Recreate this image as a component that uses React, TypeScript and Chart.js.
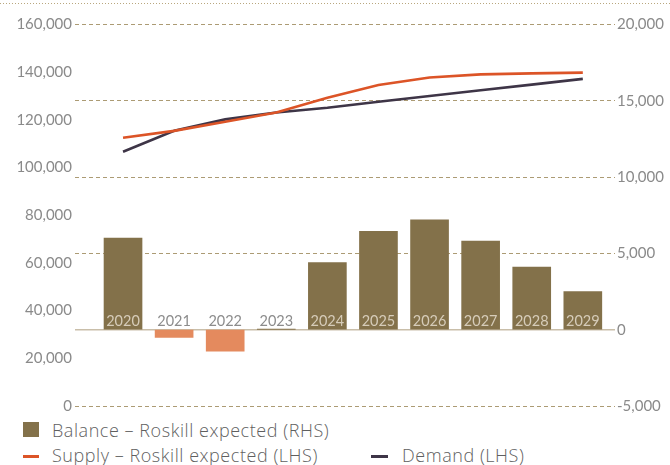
import React, { useEffect, useRef } from 'react';
import { Chart, registerables } from 'chart.js';

Chart.register(...registerables);

// ---- data ----
const years = ['2020', '2021', '2022', '2023', '2024', '2025', '2026', '2027', '2028', '2029'];
const balance = [6000, -500, -1400, 20, 4400, 6450, 7200, 5800, 4100, 2500];
const supply = [112500, 115400, 119200, 123100, 129300, 134600, 137800, 139100, 139500, 139800];
const demand = [106600, 115400, 120200, 123100, 125100, 127600, 130000, 132400, 134800, 137200];
const leftAxis = { min: 0, max: 160000, step: 20000 };
const rightAxis = { min: -5000, max: 20000, step: 5000 };
const labelBalance = 'Balance – Roskill expected (RHS)';
const labelSupply = 'Supply – Roskill expected (LHS)';
const labelDemand = 'Demand (LHS)';

const BROWN = '#83714a';
const ORANGE_BAR = '#e48a5e';
const SUPPLY_C = '#dc5427';
const DEMAND_C = '#3e3547';
const GRID_C = '#ac9b74';
const TICK_C = '#8a8a8a';
const FONT = 'Lato, "Open Sans", sans-serif';
const LEGEND_FONT = '"Open Sans", Lato, sans-serif';

const overlay = {
  id: 'overlay',
  beforeDatasetsDraw(chart: any) {
    const { ctx, chartArea, scales } = chart;
    const y0 = scales.y1.getPixelForValue(0);
    ctx.save();
    ctx.strokeStyle = '#c9bea9';
    ctx.lineWidth = 1.5;
    ctx.beginPath();
    ctx.moveTo(chartArea.left, y0);
    ctx.lineTo(chartArea.right, y0);
    ctx.stroke();
    ctx.setLineDash([1, 2]);
    ctx.strokeStyle = '#b9a77e';
    ctx.lineWidth = 1;
    ctx.beginPath();
    ctx.moveTo(0, 3.5);
    ctx.lineTo(chart.width, 3.5);
    ctx.stroke();
    ctx.restore();
  },
  afterDatasetsDraw(chart: any) {
    const { ctx, scales } = chart;
    const y0 = scales.y1.getPixelForValue(0);
    ctx.save();
    ctx.font = '14.5px ' + FONT;
    ctx.textAlign = 'center';
    ctx.textBaseline = 'alphabetic';
    years.forEach((yr, i) => {
      ctx.fillStyle = balance[i] > 500 ? '#d6ccb9' : '#8c8c8c';
      ctx.fillText(yr, scales.x.getPixelForValue(i), y0 - 4);
    });
    ctx.restore();
  },
};

function ChartView() {
  const ref = useRef<HTMLCanvasElement>(null);
  useEffect(() => {
    if (!ref.current) return;
    const chart = new Chart(ref.current, {
      type: 'bar',
      data: {
        datasets: [
          {
            type: 'line',
            label: labelSupply,
            data: supply.map((v, i) => ({ x: i, y: v })),
            yAxisID: 'y',
            borderColor: SUPPLY_C,
            backgroundColor: SUPPLY_C,
            borderWidth: 2.6,
            pointRadius: 0,
            tension: 0,
            order: 1,
          } as any,
          {
            type: 'line',
            label: labelDemand,
            data: demand.map((v, i) => ({ x: i, y: v })),
            yAxisID: 'y',
            borderColor: DEMAND_C,
            backgroundColor: DEMAND_C,
            borderWidth: 2.6,
            pointRadius: 0,
            tension: 0,
            order: 2,
          } as any,
          {
            type: 'bar',
            label: labelBalance,
            data: balance.map((v, i) => ({ x: i, y: v })),
            yAxisID: 'y1',
            backgroundColor: balance.map((v) => (v >= 0 ? BROWN : ORANGE_BAR)),
            barThickness: 38,
            order: 3,
          } as any,
        ],
      },
      options: {
        animation: false,
        responsive: false,
        layout: { padding: { top: 24.5, bottom: 0, left: 0, right: 0 } },
        plugins: { legend: { display: false }, tooltip: { enabled: false } },
        scales: {
          x: {
            type: 'linear',
            offset: false,
            min: -0.94,
            max: 9.63,
            display: false,
          },
          y: {
            position: 'left',
            min: leftAxis.min,
            max: leftAxis.max,
            ticks: {
              stepSize: leftAxis.step,
              color: TICK_C,
              padding: 3,
              font: { family: FONT, size: 15 },
              callback: (v: any) => Number(v).toLocaleString('en-US'),
            },
            grid: { display: false, drawTicks: false },
            border: { display: false },
            afterFit: (s: any) => {
              s.width = 75;
            },
          },
          y1: {
            position: 'right',
            min: rightAxis.min,
            max: rightAxis.max,
            ticks: {
              stepSize: rightAxis.step,
              color: TICK_C,
              padding: 2,
              font: { family: FONT, size: 15 },
              callback: (v: any) => Number(v).toLocaleString('en-US'),
            },
            grid: {
              drawTicks: false,
              color: (c: any) => (c.tick && c.tick.value === 0 ? 'rgba(0,0,0,0)' : GRID_C),
              lineWidth: 1,
            },
            border: { display: false, dash: [4, 3] },
            afterFit: (s: any) => {
              s.width = 55;
            },
          },
        },
      },
      plugins: [overlay],
    });
    return () => chart.destroy();
  }, []);
  return <canvas ref={ref} width={670} height={418} style={{ display: 'block' }} />;
}

const legendText: React.CSSProperties = {
  position: 'absolute',
  fontFamily: LEGEND_FONT,
  fontSize: 18,
  fontWeight: 300,
  letterSpacing: 0.55,
  color: '#5f5f5f',
  lineHeight: '22px',
  whiteSpace: 'nowrap',
};

export default function App() {
  return (
    <div style={{ position: 'absolute', left: 0, top: 0, width: 670, height: 465, background: '#fff', overflow: 'hidden' }}>
      <ChartView />
      <div style={{ position: 'absolute', left: 23, top: 422, width: 16, height: 15, background: BROWN }} />
      <div style={{ ...legendText, left: 52, top: 418.5 }}>{labelBalance}</div>
      <div style={{ position: 'absolute', left: 23, top: 454.5, width: 16, height: 3, background: SUPPLY_C }} />
      <div style={{ ...legendText, left: 52, top: 443.5 }}>{labelSupply}</div>
      <div style={{ position: 'absolute', left: 371, top: 454.5, width: 17, height: 3, background: DEMAND_C }} />
      <div style={{ ...legendText, left: 402, top: 443.5 }}>{labelDemand}</div>
    </div>
  );
}
